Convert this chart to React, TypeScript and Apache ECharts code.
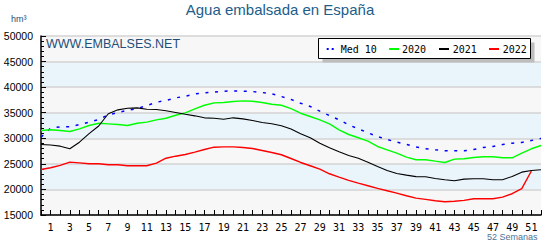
import React, { useEffect, useRef } from "react";
import * as echarts from "echarts";

const weeks: string[] = Array.from({ length: 53 }, (_, i) => String(i));

const med10: number[] = [
  30210, 31970, 32240, 32240, 32690, 33150, 33670, 34590, 35040, 35460, 35820, 36400, 37050,
  37380, 37900, 38220, 38690, 38880, 39010, 39200, 39270, 39200, 39140, 38950, 38690, 38160,
  37600, 36860, 36210, 35300, 34450, 33610, 32630, 31850, 31070, 30350, 29760, 29240, 28790,
  28300, 27950, 27750, 27560, 27560, 27560, 27810, 28200, 28400, 28790, 29040, 29180, 29570, 29960,
];

const y2020: number[] = [
  31520, 31660, 31520, 31330, 31850, 32500, 32950, 32820, 32690, 32500, 32950, 33150, 33610,
  33920, 34510, 34980, 35760, 36460, 36930, 36990, 37180, 37320, 37250, 36990, 36660, 36460,
  35800, 34900, 34260, 33610, 32830, 31660, 30740, 30100, 29430, 28400, 27750, 27090, 26310,
  25800, 25800, 25530, 25270, 25920, 25990, 26250, 26380, 26380, 26190, 26190, 27090, 27950, 28590,
];

const y2021: number[] = [
  28790, 28700, 28460, 27950, 29240, 30900, 32400, 34800, 35560, 35880, 35950, 35680, 35620,
  35370, 35040, 34710, 34390, 34000, 33930, 33730, 34000, 33800, 33470, 33080, 32830, 32440,
  31800, 30880, 30100, 29040, 28140, 27360, 26640, 26110, 25330, 24490, 23710, 23120, 22790,
  22500, 22480, 22150, 21890, 21700, 22010, 22080, 22080, 21890, 21890, 22540, 23380, 23710, 23850,
];

const y2022: (number | null)[] = [
  23900, 24240, 24690, 25330, 25200, 25020, 25020, 24820, 24820, 24630, 24630, 24630, 25140,
  26100, 26500, 26830, 27290, 27810, 28260, 28330, 28330, 28200, 28010, 27620, 27230, 26780,
  26050, 25270, 24630, 23960, 23060, 22400, 21760, 21230, 20720, 20200, 19750, 19280, 18770,
  18300, 18050, 17790, 17600, 17700, 17850, 18180, 18180, 18180, 18500, 19160, 20150, 23600, null,
];

const legendNames: string[] = ["Med 10", "2020", "2021", "2022"];

export default function App() {
  const ref = useRef<HTMLDivElement>(null);

  useEffect(() => {
    document.body.style.margin = "0";
    if (!ref.current) return;
    const chart = echarts.init(ref.current, null, { renderer: "svg" });
    const sans = "Liberation Sans, Arial, sans-serif";
    const mono = "DejaVu Sans Mono, monospace";
    const legendText = (name: string, x: number) => ({
      type: "text",
      x,
      y: 49,
      z: 22,
      style: { text: name, fontSize: 10, fontFamily: mono, fill: "#000", verticalAlign: "middle" },
    });
    const legendLine = (x1: number, color: string) => ({
      type: "line",
      z: 22,
      shape: { x1, y1: 49, x2: x1 + 10, y2: 49 },
      style: { stroke: color, lineWidth: 2 },
    });
    chart.setOption({
      animation: false,
      backgroundColor: "#ffffff",
      grid: { left: 41, right: 19, top: 36, bottom: 35, containLabel: false },
      xAxis: {
        type: "category",
        data: weeks,
        boundaryGap: false,
        axisLine: { show: true, lineStyle: { color: "#000", width: 1.5 } },
        axisTick: { show: true, inside: true, length: 5, interval: 0, lineStyle: { color: "#000" } },
        axisLabel: {
          interval: (i: number) => i % 2 === 1,
          color: "#000",
          fontFamily: mono,
          fontSize: 10,
          margin: 7,
        },
        splitLine: { show: false },
      },
      yAxis: {
        type: "value",
        min: 15000,
        max: 50000,
        interval: 5000,
        axisLine: { show: true, lineStyle: { color: "#000", width: 1.5 } },
        axisTick: { show: true, inside: true, length: 5, lineStyle: { color: "#000" } },
        minorTick: { show: true, splitNumber: 5, length: 3, lineStyle: { color: "#000" } },
        axisLabel: {
          color: "#000",
          fontFamily: sans,
          fontSize: 10.5,
          margin: 8,
          formatter: (v: number) => String(v),
        },
        splitLine: { show: true, lineStyle: { color: "#d3d3d3", width: 1.5 } },
        splitArea: { show: true, areaStyle: { color: ["#f7f7f7", "#eaf4fb"] } },
      },
      series: [
        {
          name: legendNames[0],
          type: "line",
          data: med10,
          showSymbol: false,
          lineStyle: { color: "#0000ff", width: 1.5, type: [3, 6.6] },
          z: 3,
        },
        {
          name: legendNames[1],
          type: "line",
          data: y2020,
          showSymbol: false,
          lineStyle: { color: "#00ff00", width: 1.4 },
          z: 3,
        },
        {
          name: legendNames[2],
          type: "line",
          data: y2021,
          showSymbol: false,
          lineStyle: { color: "#000000", width: 1.1 },
          z: 4,
        },
        {
          name: legendNames[3],
          type: "line",
          data: y2022,
          showSymbol: false,
          lineStyle: { color: "#ff0000", width: 1.4 },
          z: 3,
        },
      ],
      graphic: [
        {
          type: "text",
          left: "center",
          top: 2,
          style: {
            text: "Agua embalsada en España",
            fontSize: 15,
            fontFamily: sans,
            fill: "#215d8a",
          },
        },
        {
          type: "text",
          x: 11,
          y: 14,
          style: { text: "hm³", fontSize: 9, fontFamily: sans, fill: "#1f4e79" },
        },
        {
          type: "text",
          x: 46,
          y: 44,
          z: 10,
          style: {
            text: "WWW.EMBALSES.NET",
            fontSize: 12.5,
            fontFamily: sans,
            fill: "#1f4e79",
            verticalAlign: "middle",
          },
        },
        {
          type: "text",
          x: 487,
          y: 237,
          style: {
            text: "52 Semanas",
            fontSize: 9,
            fontFamily: sans,
            fill: "#4f7394",
            verticalAlign: "middle",
          },
        },
        {
          type: "rect",
          z: 20,
          shape: { x: 322.5, y: 42.5, width: 212, height: 20 },
          style: { fill: "#bdbdbd" },
        },
        {
          type: "rect",
          z: 21,
          shape: { x: 318.5, y: 38.5, width: 212, height: 20 },
          style: { fill: "#ffffff", stroke: "#000", lineWidth: 1 },
        },
        {
          type: "line",
          z: 22,
          shape: { x1: 326.7, y1: 49, x2: 334, y2: 49 },
          style: { stroke: "#0000ff", lineWidth: 2, lineDash: [2, 3] },
        },
        legendLine(389, "#00ff00"),
        legendLine(439, "#000000"),
        legendLine(489, "#ff0000"),
        legendText(legendNames[0], 340.7),
        legendText(legendNames[1], 402),
        legendText(legendNames[2], 452.7),
        legendText(legendNames[3], 502.7),
      ],
    });
    return () => chart.dispose();
  }, []);

  return (
    <div
      ref={ref}
      style={{ position: "absolute", left: 0, top: 0, width: 560, height: 250 }}
    />
  );
}
